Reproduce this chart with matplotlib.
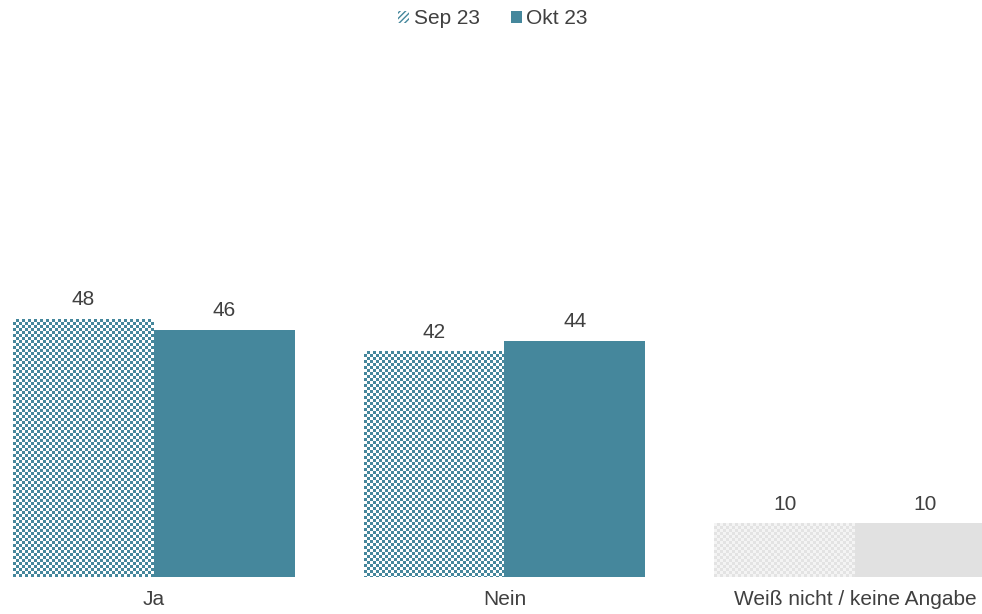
import numpy as np
import matplotlib
matplotlib.use("Agg")
import matplotlib.pyplot as plt
from matplotlib.patches import Patch
from matplotlib.colors import ListedColormap

plt.rcParams['font.family'] = ['Liberation Sans', 'DejaVu Sans']

categories = ["Ja", "Nein", "Weiß nicht / keine Angabe"]
series_names = ["Sep 23", "Okt 23"]
sep_values = [48, 42, 10]
okt_values = [46, 44, 10]

teal = "#45879c"
grey = "#e1e1e1"
text_col = "#404040"

fig = plt.figure(figsize=(9.82, 6.14), dpi=100)
ax = fig.add_axes([0, 37 / 614, 1, 537.5 / 614])
ax.set_xlim(-0.439, 2.362)
ax.set_ylim(0, 100)
ax.axis('off')

w = 0.402
x = np.arange(len(categories))
px_per_x = 350.5
px_per_y = 5.375

def checker_bar(xc, h, c0, c1):
    bar = ax.bar(xc, h, width=w, color='white', linewidth=0)[0]
    nx = int(round(w * px_per_x))
    ny = int(round(h * px_per_y))
    ii, jj = np.meshgrid(np.arange(ny), np.arange(nx), indexing='ij')
    cb = (((ii // 3) + (jj // 3)) % 2).astype(float)
    im = ax.imshow(cb, cmap=ListedColormap([c0, c1]),
                   extent=(xc - w / 2, xc + w / 2, 0, h),
                   interpolation='nearest', aspect='auto', origin='upper', zorder=2)
    im.set_clip_path(bar)
    return bar

for i, (s, o) in enumerate(zip(sep_values, okt_values)):
    if i < 2:
        checker_bar(x[i] - w / 2, s, 'white', teal)
        c_okt = teal
    else:
        checker_bar(x[i] - w / 2, s, '#f4f4f4', '#e3e3e3')
        c_okt = grey
    ax.annotate(str(s), (x[i] - w / 2, s), xytext=(0, 7), textcoords='offset points',
                ha='center', va='bottom', fontsize=15, color=text_col)
    ax.bar(x[i] + w / 2, o, width=w, color=c_okt, linewidth=0, zorder=2)
    ax.annotate(str(o), (x[i] + w / 2, o), xytext=(0, 7), textcoords='offset points',
                ha='center', va='bottom', fontsize=15, color=text_col)
    fig.text(x[i] * px_per_x / 982 + 154 / 982, 1 - 605 / 614, categories[i],
             ha='center', va='baseline', fontsize=15, color=text_col)

handles = [Patch(facecolor='white', edgecolor=teal, hatch='//////', linewidth=0),
           Patch(facecolor=teal, linewidth=0)]
fig.legend(handles, series_names, loc='center', bbox_to_anchor=(0.502, 1 - 19 / 614),
           ncol=2, frameon=False, fontsize=15, handlelength=0.55, handleheight=0.55,
           handletextpad=0.2, columnspacing=1.5, labelcolor=text_col)

fig.savefig("out.png", dpi=100)
